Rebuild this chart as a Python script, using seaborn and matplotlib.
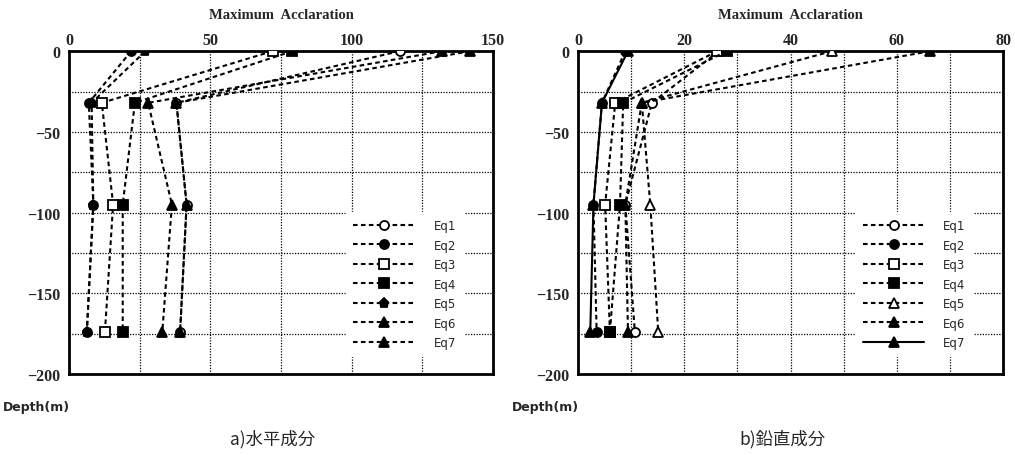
import numpy as np
import pandas as pd
import matplotlib
matplotlib.use("Agg")
import matplotlib.pyplot as plt
from matplotlib.ticker import MultipleLocator
import seaborn as sns

# ---------------- data ----------------
depths = [0, -32, -95, -174]
labels = ["Eq1", "Eq2", "Eq3", "Eq4", "Eq5", "Eq6", "Eq7"]

# a) horizontal component
h_eq1 = [117, 38, 41.6, 39.3]
h_eq2 = [22, 7, 8.6, 6.3]
h_eq3 = [72, 11.6, 15.6, 12.7]
h_eq4 = [79, 23.3, 19, 19]
h_eq5 = [27, 8, 8.6, 6.3]
h_eq6 = [132, 28, 36.4, 33]
h_eq7 = [142, 38, 41.6, 39.3]

# b) vertical component
v_eq1 = [26.5, 13.9, 8.9, 10.7]
v_eq2 = [8.9, 4.5, 2.9, 3.5]
v_eq3 = [26.2, 7, 5.1, 6]
v_eq4 = [28, 8.5, 7.9, 6]
v_eq5 = [47.8, 12, 13.6, 15.1]
v_eq6 = [66.3, 12, 8.9, 9.4]
v_eq7 = [9.4, 4.5, 2.9, 2.3]

xticks_h = [0, 50, 100, 150]
xticks_v = [0, 20, 40, 60, 80]
yticks = [0, -50, -100, -150, -200]

# ---------------- style ----------------
sns.set_style("white")
plt.rcParams['font.family'] = ['Liberation Serif', 'DejaVu Sans']

fig = plt.figure(figsize=(10.15, 4.56), dpi=100)
axL = fig.add_axes([0.068, 0.1776, 0.4177, 0.708])
axR = fig.add_axes([0.5695, 0.1776, 0.4187, 0.708])

dash = (0, (2.2, 1.6))
styles_h = [
    dict(marker='o', mfc='white', ls=dash),
    dict(marker='o', mfc='black', ls=dash),
    dict(marker='s', mfc='white', ls=dash),
    dict(marker='s', mfc='black', ls=dash),
    dict(marker='p', mfc='black', ls=dash),
    dict(marker='^', mfc='black', ls=dash),
    dict(marker='^', mfc='black', ls=dash),
]
styles_v = [
    dict(marker='o', mfc='white', ls=dash),
    dict(marker='o', mfc='black', ls=dash),
    dict(marker='s', mfc='white', ls=dash),
    dict(marker='s', mfc='black', ls=dash),
    dict(marker='^', mfc='white', ls=dash),
    dict(marker='^', mfc='black', ls=dash),
    dict(marker='^', mfc='black', ls='-'),
]

def draw(ax, series, styles, xmax, xminor, xticks):
    for lab, vals, st in zip(labels, series, styles):
        df = pd.DataFrame({"acc": vals, "depth": depths})
        sns.lineplot(data=df, x="acc", y="depth", ax=ax, sort=False, estimator=None,
                     color='black', marker=st['marker'], markerfacecolor=st['mfc'],
                     markeredgecolor='black', markeredgewidth=1.3, markersize=6.5,
                     linestyle=st['ls'], linewidth=1.5, label=lab, zorder=3)
    ax.set_xlim(0, xmax)
    ax.set_ylim(-200, 0)
    ax.set_xticks(xticks)
    ax.set_yticks(yticks)
    ax.xaxis.set_minor_locator(MultipleLocator(xminor))
    ax.yaxis.set_minor_locator(MultipleLocator(25))
    ax.grid(True, which='both', color='black', linestyle=(0, (1, 1.2)), linewidth=0.9)
    ax.xaxis.tick_top()
    ax.tick_params(axis='both', which='both', length=0)
    ax.tick_params(axis='x', pad=2)
    ax.tick_params(axis='y', pad=6)
    for t in ax.get_xticklabels() + ax.get_yticklabels():
        t.set_fontweight('bold')
        t.set_fontsize(11.5)
    for s in ax.spines.values():
        s.set_visible(True)
        s.set_color('black')
        s.set_linewidth(2)
    ax.set_xlabel("")
    ax.set_ylabel("")
    leg = ax.legend(loc='upper left', bbox_to_anchor=(0.64, 0.52), frameon=True,
                    facecolor='white', edgecolor='white', framealpha=1, fancybox=False,
                    handlelength=5.2, labelspacing=0.55,
                    handletextpad=1.6, borderpad=0.6, prop={'family': 'DejaVu Sans', 'size': 8.5})
    leg.set_zorder(5)
    ax.set_axisbelow(True)

draw(axL, [h_eq1, h_eq2, h_eq3, h_eq4, h_eq5, h_eq6, h_eq7], styles_h, 150, 25, xticks_h)
draw(axR, [v_eq1, v_eq2, v_eq3, v_eq4, v_eq5, v_eq6, v_eq7], styles_v, 80, 10, xticks_v)

for ax, cap in [(axL, "a)水平成分"), (axR, "b)鉛直成分")]:
    ax.text(0.5, 1.115, "Maximum  Acclaration", transform=ax.transAxes, ha='center',
            va='center', fontsize=10.5, fontweight='bold', family='Liberation Serif')
    ax.text(-0.156, -0.10, "Depth(m)", transform=ax.transAxes, ha='left', va='center',
            fontsize=9, fontweight='bold', family='DejaVu Sans')
    ax.text(0.48, -0.20, cap, transform=ax.transAxes, ha='center', va='center',
            fontsize=12.5, family=['Noto Sans CJK JP', 'DejaVu Sans'])

fig.savefig("out.png", dpi=100, facecolor='white')
